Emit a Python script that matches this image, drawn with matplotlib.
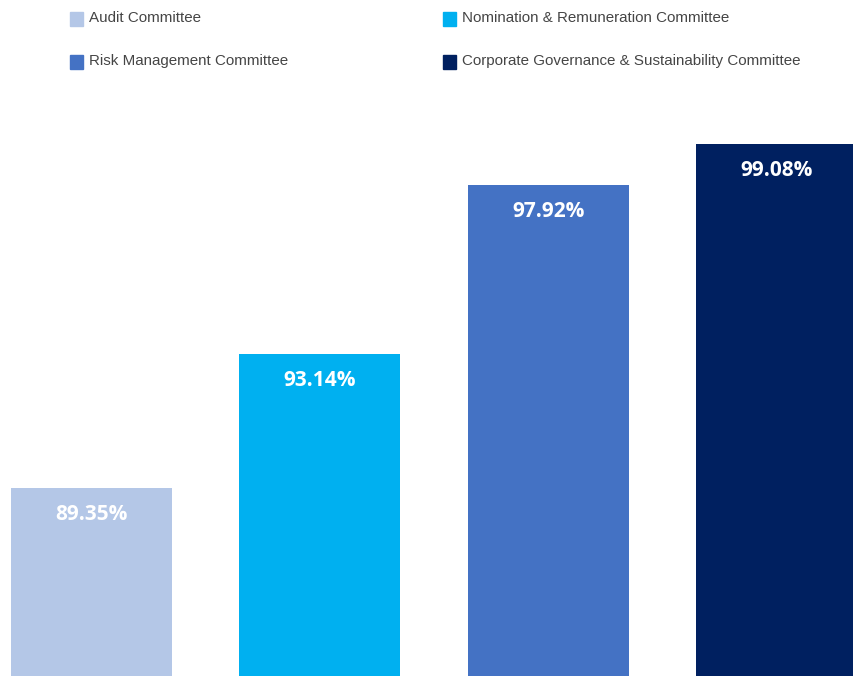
import matplotlib.pyplot as plt
from matplotlib.patches import Rectangle

# Committee meeting attendance
committees = ['Audit Committee', 'Nomination & Remuneration Committee',
              'Risk Management Committee', 'Corporate Governance & Sustainability Committee']
attendance = [89.35, 93.14, 97.92, 99.08]
colors = ['#B4C7E7', '#00B0F0', '#4472C4', '#002060']

fig = plt.figure(figsize=(8.54, 6.76), dpi=100)
ax = fig.add_axes([0, 0, 1, 1])

x = range(len(committees))
bars = ax.bar(x, attendance, width=0.705, color=colors)

for bar, val in zip(bars, attendance):
    ax.annotate(f'{val:.2f}%', (bar.get_x() + bar.get_width() / 2, val),
                xytext=(0, -27), textcoords='offset pixels',
                ha='center', va='center', color='white',
                fontsize=15, fontweight='bold', family='Open Sans')

ax.set_xlim(-0.4, 3.337)
ax.set_ylim(84.03, 103.15)
ax.axis('off')

# legend laid out in two columns at the top
W, H = 854, 676
legend_pos = [(70, 19), (443, 19), (70, 62), (443, 62)]
for (px, py), name, c in zip(legend_pos, committees, colors):
    fig.patches.append(Rectangle((px / W, 1 - (py + 6.5) / H), 13 / W, 13 / H,
                                 transform=fig.transFigure, color=c))
    fig.text((px + 19) / W, 1 - (py - 1) / H, name, ha='left', va='center',
             fontsize=10.9, family='Liberation Sans', color='#454545')

plt.savefig('out.png', dpi=100)
